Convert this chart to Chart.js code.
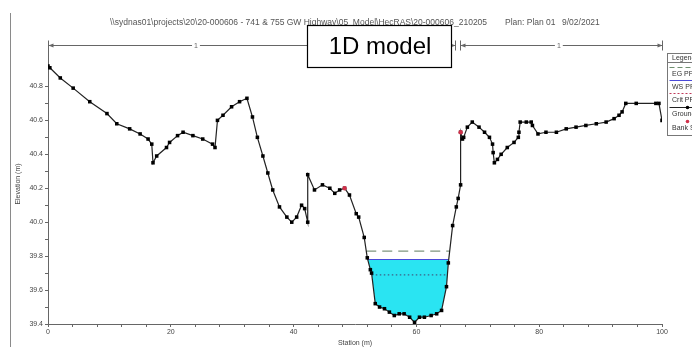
<!DOCTYPE html>
<html>
<head>
<meta charset="utf-8">
<script src="https://cdn.jsdelivr.net/npm/chart.js@4.4.1/dist/chart.umd.min.js"></script>
<style>
  html, body { margin: 0; padding: 0; background: #fff; }
  #wrap { width: 692px; height: 347px; }
</style>
</head>
<body>
<div id="wrap"><canvas id="xsChart" width="692" height="347"></canvas></div>
<script>
// ground profile (station m, elevation m)
const groundStation = [0, 0.3, 2.0, 4.1, 6.8, 9.6, 11.2, 13.3, 15.0, 16.3, 16.9, 17.1, 17.7, 19.3, 19.8,
  21.1, 22.0, 23.6, 25.2, 26.8, 27.2, 27.6, 28.5, 29.9, 31.2, 32.4, 33.3, 34.1, 35.0, 35.8, 36.6,
  37.7, 38.9, 39.7, 40.5, 41.3, 41.8, 42.3, 42.3, 43.4, 44.7, 45.9, 46.7, 47.5, 48.3, 49.1, 50.2,
  50.6, 51.5, 52.0, 52.5, 52.7, 53.3, 54.0, 54.8, 55.6, 56.4, 57.2, 58.0, 58.9, 59.7, 60.5, 61.3,
  62.4, 63.3, 64.1, 64.9, 65.2, 65.9, 66.5, 66.8, 67.2, 67.2, 67.5, 67.7, 68.3, 69.1, 70.2, 71.1,
  71.9, 72.4, 72.5, 72.7, 73.2, 73.8, 74.8, 75.9, 76.6, 76.7, 76.9, 77.9, 78.7, 78.9, 79.8, 81.1,
  82.8, 84.4, 86.0, 87.6, 89.3, 90.9, 92.2, 93.0, 93.5, 94.1, 95.8, 99.0, 99.5, 100];
const groundElev = [40.92, 40.91, 40.85, 40.79, 40.71, 40.64, 40.58, 40.55, 40.52, 40.49, 40.46, 40.35, 40.39, 40.44, 40.47,
  40.51, 40.53, 40.51, 40.49, 40.46, 40.44, 40.60, 40.63, 40.68, 40.71, 40.73, 40.62, 40.50, 40.39, 40.29, 40.19,
  40.09, 40.03, 40.00, 40.03, 40.10, 40.08, 40.00, 40.28, 40.19, 40.22, 40.20, 40.17, 40.19, 40.20, 40.16, 40.05,
  40.03, 39.91, 39.79, 39.72, 39.70, 39.52, 39.50, 39.49, 39.47, 39.45, 39.46, 39.46, 39.44, 39.41, 39.44, 39.44,
  39.45, 39.46, 39.48, 39.62, 39.76, 39.98, 40.09, 40.14, 40.22, 40.53, 40.49, 40.50, 40.56, 40.59, 40.56, 40.53,
  40.50, 40.46, 40.41, 40.35, 40.37, 40.40, 40.44, 40.47, 40.50, 40.53, 40.59, 40.59, 40.59, 40.57, 40.52, 40.53,
  40.53, 40.55, 40.56, 40.57, 40.58, 40.59, 40.61, 40.63, 40.65, 40.70, 40.70, 40.70, 40.70, 40.60];

const bankStation = [48.3, 67.2];
const bankElev = [40.20, 40.53];

// profile results PF 1
const egElev = 39.83;
const wsElev = 39.78;
const critElev = 39.69;

// Manning's n region markers
const nRegionStart = [0, 67.1];
const nRegionEnd = [66.3, 100];
const nRegionLabel = ['1', '1'];
const nLabelStation = [24.1, 83.2];

const xTicks = [0, 20, 40, 60, 80, 100];
const yTicks = [39.4, 39.6, 39.8, 40.0, 40.2, 40.4, 40.6, 40.8];

const titleText = '\\\\sydnas01\\projects\\20\\20-000606 - 741 & 755 GW Highway\\05_Model\\HecRAS\\20-000606_210205';
const planText = 'Plan: Plan 01';
const dateText = '9/02/2021';

const FONT = '"Liberation Sans", Arial, sans-serif';

const ground = groundStation.map((s, i) => ({ x: s, y: groundElev[i] }));

// where a level meets the ground either side of the thalweg
function crossings(level) {
  let low = 0;
  groundElev.forEach((e, i) => { if (e < groundElev[low]) low = i; });
  let l = low, r = low;
  while (l > 0 && groundElev[l - 1] < level) l--;
  while (r < groundElev.length - 1 && groundElev[r + 1] < level) r++;
  const lerp = (a, b) => groundStation[a] + (level - groundElev[a]) * (groundStation[b] - groundStation[a]) / (groundElev[b] - groundElev[a]);
  return [lerp(l - 1, l), lerp(r + 1, r)];
}

function levelLine(level) {
  const c = crossings(level);
  return [{ x: c[0], y: level }, { x: c[1], y: level }];
}

const decor = {
  id: 'decor',
  afterDraw(chart) {
    const ctx = chart.ctx;
    const xs = chart.scales.x;
    ctx.save();

    // window frame line
    ctx.strokeStyle = '#8a8a8a';
    ctx.lineWidth = 1;
    ctx.beginPath();
    ctx.moveTo(10.5, 13);
    ctx.lineTo(10.5, 347);
    ctx.stroke();

    // heading
    ctx.fillStyle = '#555';
    ctx.font = '8.5px ' + FONT;
    ctx.textBaseline = 'middle';
    ctx.textAlign = 'left';
    ctx.fillText(titleText, 110, 22.5);
    ctx.fillText(planText, 505, 22.5);
    ctx.fillText(dateText, 562, 22.5);

    // n value regions
    const yM = 45.5;
    ctx.strokeStyle = '#666';
    ctx.fillStyle = '#666';
    nRegionStart.forEach((s, i) => {
      const a = Math.round(xs.getPixelForValue(s)) + 0.5;
      const b = Math.round(xs.getPixelForValue(nRegionEnd[i])) + 0.5;
      ctx.beginPath();
      ctx.moveTo(a, yM); ctx.lineTo(b, yM);
      ctx.moveTo(a, yM - 5); ctx.lineTo(a, yM + 5);
      ctx.moveTo(b, yM - 5); ctx.lineTo(b, yM + 5);
      ctx.stroke();
      ctx.beginPath();
      ctx.moveTo(a, yM); ctx.lineTo(a + 5, yM - 2); ctx.lineTo(a + 5, yM + 2); ctx.closePath();
      ctx.moveTo(b, yM); ctx.lineTo(b - 5, yM - 2); ctx.lineTo(b - 5, yM + 2); ctx.closePath();
      ctx.fill();
      const lx = xs.getPixelForValue(nLabelStation[i]);
      ctx.font = '7px ' + FONT;
      const w = ctx.measureText(nRegionLabel[i]).width + 4;
      ctx.fillStyle = '#fff';
      ctx.fillRect(lx - w / 2, yM - 4, w, 8);
      ctx.fillStyle = '#666';
      ctx.textAlign = 'center';
      ctx.fillText(nRegionLabel[i], lx, yM + 0.5);
    });

    // annotation box
    ctx.fillStyle = '#fff';
    ctx.fillRect(307, 25, 144, 42);
    ctx.strokeStyle = '#000';
    ctx.lineWidth = 1.2;
    ctx.strokeRect(307.5, 25.5, 144, 42);
    ctx.fillStyle = '#000';
    ctx.font = '24px ' + FONT;
    ctx.textAlign = 'center';
    ctx.textBaseline = 'middle';
    ctx.fillText('1D model', 380, 47);

    // legend box (runs off the right edge)
    const lx0 = 667.5;
    ctx.fillStyle = '#fff';
    ctx.fillRect(lx0, 53.5, 40, 82);
    ctx.strokeStyle = '#777';
    ctx.lineWidth = 1;
    ctx.strokeRect(lx0, 53.5, 40, 82);
    ctx.beginPath();
    ctx.moveTo(lx0, 62.5); ctx.lineTo(lx0 + 40, 62.5);
    ctx.stroke();
    ctx.fillStyle = '#333';
    ctx.font = '7px ' + FONT;
    ctx.textAlign = 'left';
    ctx.fillText('Legend', 672, 58);
    const items = [
      { t: 'EG PF 1', y: 67.5, c: '#6f8f6f', d: [5, 3] },
      { t: 'WS PF 1', y: 80.5, c: '#4a4ad8', d: [] },
      { t: 'Crit PF 1', y: 93.5, c: '#c03a5a', d: [2, 2] },
      { t: 'Ground', y: 107.5, c: '#222', d: [], dot: '#000' },
      { t: 'Bank Sta', y: 121.5, dot: '#d0304a' }
    ];
    items.forEach(it => {
      if (it.c) {
        ctx.strokeStyle = it.c;
        ctx.setLineDash(it.d);
        ctx.beginPath();
        ctx.moveTo(lx0 + 2, it.y); ctx.lineTo(lx0 + 38, it.y);
        ctx.stroke();
        ctx.setLineDash([]);
      }
      if (it.dot) {
        ctx.fillStyle = it.dot;
        ctx.beginPath();
        ctx.arc(lx0 + 20, it.y, 1.8, 0, Math.PI * 2);
        ctx.fill();
      }
      ctx.fillStyle = '#333';
      ctx.fillText(it.t, 672, it.y + 6.5);
    });
    ctx.restore();
  }
};

const ctx = document.getElementById('xsChart').getContext('2d');
new Chart(ctx, {
  type: 'scatter',
  data: {
    datasets: [
      {
        label: 'Bank Sta',
        data: bankStation.map((s, i) => ({ x: s, y: bankElev[i] })),
        showLine: false,
        pointRadius: 2.2,
        pointBackgroundColor: '#d0304a',
        pointBorderWidth: 0
      },
      {
        label: 'Ground',
        data: ground,
        showLine: true,
        borderColor: '#222',
        borderWidth: 1.2,
        pointStyle: 'rect',
        pointRadius: 2.5,
        pointBackgroundColor: '#000',
        pointBorderWidth: 0,
        tension: 0
      },
      {
        label: 'Crit PF 1',
        data: levelLine(critElev),
        showLine: true,
        borderColor: '#3d5f86',
        borderWidth: 1.2,
        borderDash: [1.5, 2.5],
        pointRadius: 0
      },
      {
        label: 'EG PF 1',
        data: levelLine(egElev),
        showLine: true,
        borderColor: '#7f957f',
        borderWidth: 1.3,
        borderDash: [10, 6],
        pointRadius: 0
      },
      {
        label: 'WS PF 1',
        data: levelLine(wsElev),
        showLine: true,
        borderColor: '#4a4ad8',
        borderWidth: 1,
        pointRadius: 0,
        fill: { target: 1, above: '#2ae4f2', below: 'rgba(0,0,0,0)' }
      }
    ]
  },
  options: {
    responsive: false,
    devicePixelRatio: 1,
    animation: false,
    layout: { padding: { top: 44, right: 30, left: 0, bottom: 0 } },
    plugins: {
      legend: { display: false },
      tooltip: { enabled: false }
    },
    scales: {
      x: {
        type: 'linear',
        min: 0,
        max: 100,
        afterBuildTicks: (s) => {
          s.ticks = [];
          for (let v = 0; v <= 100; v += 4) s.ticks.push({ value: v });
        },
        afterFit: (s) => { s.height = 23; },
        grid: { drawOnChartArea: false, tickLength: 3, color: '#666' },
        border: { color: '#666' },
        ticks: {
          autoSkip: false,
          maxRotation: 0,
          padding: 1,
          color: '#444',
          font: { family: FONT, size: 7 },
          callback: (v) => xTicks.includes(v) ? String(v) : ''
        },
        title: {
          display: true,
          text: 'Station (m)',
          color: '#444',
          font: { family: FONT, size: 7 },
          padding: { top: 0, bottom: 0 }
        }
      },
      y: {
        type: 'linear',
        min: 39.4,
        max: 41.05,
        afterBuildTicks: (s) => {
          s.ticks = [];
          for (let k = 0; k <= 14; k++) s.ticks.push({ value: +(39.4 + k * 0.1).toFixed(1) });
        },
        afterFit: (s) => { s.width = 48; },
        grid: { drawOnChartArea: false, tickLength: 3, color: '#666' },
        border: { color: '#666' },
        ticks: {
          autoSkip: false,
          padding: 2,
          color: '#444',
          font: { family: FONT, size: 7 },
          callback: (v) => {
            const hit = yTicks.find(t => Math.abs(t - v) < 1e-6);
            return hit !== undefined ? hit.toFixed(1) : '';
          }
        },
        title: {
          display: true,
          text: 'Elevation (m)',
          color: '#444',
          font: { family: FONT, size: 7 },
          padding: { top: 14, bottom: 0 }
        }
      }
    }
  },
  plugins: [decor]
});
</script>
</body>
</html>
